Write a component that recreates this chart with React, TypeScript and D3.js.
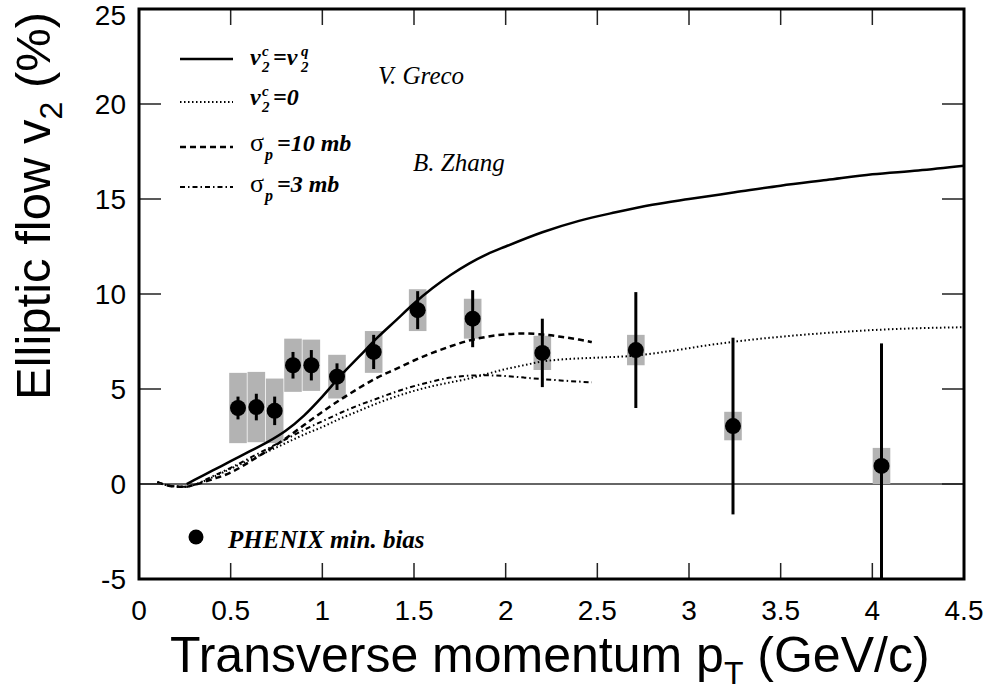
import React from "react";
import * as d3 from "d3";

// PHENIX min. bias data
const ptValues = [0.54, 0.64, 0.74, 0.84, 0.94, 1.08, 1.28, 1.52, 1.82, 2.2, 2.71, 3.24, 4.05];
const v2Values = [4.0, 4.05, 3.85, 6.25, 6.25, 5.65, 6.95, 9.15, 8.7, 6.9, 7.05, 3.05, 0.95];
const statErrors = [0.6, 0.7, 0.75, 0.7, 0.8, 0.7, 0.9, 1.0, 1.5, 1.8, 3.05, 4.65, 6.45];
const sysErrors = [1.85, 1.85, 1.7, 1.4, 1.35, 1.15, 1.1, 1.1, 1.05, 0.9, 0.8, 0.75, 0.95];

// Theory curves
const solidX = [0.26, 0.3, 0.4, 0.5, 0.6, 0.7, 0.8, 0.9, 1.0, 1.1, 1.2, 1.3, 1.4, 1.5, 1.6, 1.7, 1.8, 1.9, 2.0, 2.2, 2.4, 2.6, 2.8, 3.0, 3.25, 3.5, 3.75, 4.0, 4.25, 4.5];
const solidY = [0, 0.2, 0.7, 1.2, 1.7, 2.2, 2.8, 3.6, 4.6, 5.7, 6.7, 7.7, 8.6, 9.5, 10.3, 11.0, 11.6, 12.1, 12.5, 13.25, 13.85, 14.3, 14.7, 15.0, 15.35, 15.7, 16.0, 16.3, 16.5, 16.75];

const dottedX = [0.1, 0.17, 0.25, 0.3, 0.4, 0.5, 0.6, 0.7, 0.8, 0.9, 1.0, 1.1, 1.2, 1.3, 1.4, 1.5, 1.6, 1.7, 1.8, 1.9, 2.0, 2.1, 2.2, 2.3, 2.5, 2.7, 2.9, 3.1, 3.3, 3.5, 3.75, 4.0, 4.25, 4.5];
const dottedY = [0.1, -0.1, -0.15, -0.05, 0.35, 0.8, 1.25, 1.7, 2.15, 2.6, 3.0, 3.45, 3.85, 4.25, 4.6, 4.9, 5.15, 5.35, 5.55, 5.8, 6.05, 6.25, 6.45, 6.55, 6.65, 6.75, 7.0, 7.3, 7.55, 7.75, 7.95, 8.1, 8.2, 8.25];

const dashedX = [0.1, 0.17, 0.25, 0.3, 0.4, 0.5, 0.6, 0.7, 0.8, 0.9, 1.0, 1.1, 1.2, 1.3, 1.4, 1.5, 1.6, 1.7, 1.8, 1.9, 2.0, 2.1, 2.2, 2.3, 2.4, 2.47];
const dashedY = [0.1, -0.1, -0.15, -0.05, 0.25, 0.6, 1.15, 1.75, 2.4, 3.1, 3.8, 4.45, 5.05, 5.6, 6.05, 6.5, 6.9, 7.25, 7.55, 7.75, 7.88, 7.92, 7.87, 7.75, 7.6, 7.47];

const dashDotX = [0.1, 0.17, 0.25, 0.3, 0.4, 0.5, 0.6, 0.7, 0.8, 0.9, 1.0, 1.1, 1.2, 1.3, 1.4, 1.5, 1.6, 1.7, 1.8, 1.9, 2.0, 2.1, 2.2, 2.3, 2.47];
const dashDotY = [0.1, -0.1, -0.15, -0.05, 0.4, 0.85, 1.35, 1.85, 2.35, 2.85, 3.3, 3.75, 4.15, 4.5, 4.85, 5.15, 5.4, 5.6, 5.7, 5.72, 5.68, 5.6, 5.52, 5.45, 5.35];

const xTicks = [0, 0.5, 1, 1.5, 2, 2.5, 3, 3.5, 4, 4.5];
const yTicks = [-5, 0, 5, 10, 15, 20, 25];

const W = 989;
const H = 698;
const x = d3.scaleLinear().domain([0, 4.5]).range([139, 964]);
const y = d3.scaleLinear().domain([-5, 25]).range([579, 9]);

const line = d3
  .line<[number, number]>()
  .x((d) => x(d[0]))
  .y((d) => y(d[1]))
  .curve(d3.curveMonotoneX);

const zip = (a: number[], b: number[]) => a.map((v, i) => [v, b[i]] as [number, number]);

const sans = "'Liberation Sans', Arial, Helvetica, sans-serif";
const serif = "'Liberation Serif', 'Times New Roman', serif";

export default function App() {
  const [x0, x1] = x.range();
  const [yb, yt] = y.range();
  const legendRows = [
    { y: 59, dash: "none", w: 2.5 },
    { y: 102, dash: "1.5 2.5", w: 2 },
    { y: 147, dash: "6 4", w: 2.5 },
    { y: 187, dash: "5 3 1.5 3", w: 2 },
  ];
  const bi = { fontFamily: serif, fontStyle: "italic", fontWeight: "bold" } as const;
  return (
    <div style={{ position: "absolute", left: 0, top: 0 }}>
      <svg width={W} height={H} viewBox={`0 0 ${W} ${H}`} style={{ display: "block", background: "#fff" }}>
        <defs>
          <clipPath id="plot">
            <rect x={x0} y={yt} width={x1 - x0} height={yb - yt} />
          </clipPath>
        </defs>

        {/* zero line */}
        <line x1={x0} x2={x1} y1={y(0)} y2={y(0)} stroke="#333" strokeWidth={1.5} />

        {/* systematic boxes */}
        {ptValues.map((p, i) => (
          <rect
            key={"sys" + i}
            x={x(p - 0.048)}
            width={x(p + 0.048) - x(p - 0.048)}
            y={y(v2Values[i] + sysErrors[i])}
            height={y(v2Values[i] - sysErrors[i]) - y(v2Values[i] + sysErrors[i])}
            fill="#b3b3b3"
          />
        ))}

        {/* theory curves */}
        <g clipPath="url(#plot)" fill="none" stroke="#000">
          <path d={line(zip(solidX, solidY)) || ""} strokeWidth={2.5} />
          <path d={line(zip(dottedX, dottedY)) || ""} strokeWidth={2} strokeDasharray="1.5 2.5" />
          <path d={line(zip(dashedX, dashedY)) || ""} strokeWidth={2.5} strokeDasharray="6 4" />
          <path d={line(zip(dashDotX, dashDotY)) || ""} strokeWidth={2} strokeDasharray="5 3 1.5 3" />
        </g>

        {/* stat error bars and points */}
        <g clipPath="url(#plot)">
          {ptValues.map((p, i) => (
            <line
              key={"err" + i}
              x1={x(p)}
              x2={x(p)}
              y1={y(v2Values[i] - statErrors[i])}
              y2={y(v2Values[i] + statErrors[i])}
              stroke="#000"
              strokeWidth={3}
            />
          ))}
          {ptValues.map((p, i) => (
            <circle key={"pt" + i} cx={x(p)} cy={y(v2Values[i])} r={8} fill="#000" />
          ))}
        </g>

        {/* ticks */}
        <g stroke="#222" strokeWidth={1.5}>
          {xTicks.map((t) => (
            <g key={"xt" + t}>
              <line x1={x(t)} x2={x(t)} y1={yb} y2={yb - 16} />
              <line x1={x(t)} x2={x(t)} y1={yt} y2={yt + 16} />
            </g>
          ))}
          {yTicks.map((t) => (
            <g key={"yt" + t}>
              <line x1={x0} x2={x0 + 22} y1={y(t)} y2={y(t)} />
              <line x1={x1} x2={x1 - 22} y1={y(t)} y2={y(t)} />
            </g>
          ))}
        </g>

        {/* frame */}
        <rect x={x0} y={yt} width={x1 - x0} height={yb - yt} fill="none" stroke="#000" strokeWidth={3} />

        {/* tick labels */}
        <g fontFamily={sans} fontSize={28} fill="#000">
          {xTicks.map((t) => (
            <text key={"xl" + t} x={x(t)} y={620} textAnchor="middle">
              {String(t)}
            </text>
          ))}
          {yTicks.map((t) => (
            <text key={"yl" + t} x={126} y={Math.max(y(t) + 10, 25)} textAnchor="end">
              {String(t)}
            </text>
          ))}
        </g>

        {/* axis titles */}
        <text x={170} y={672} fontFamily={sans} fontSize={50} fill="#000">
          <tspan>Transverse momentum p</tspan>
          <tspan fontSize={32} dy={12}>T</tspan>
          <tspan dy={-12}> (GeV/c)</tspan>
        </text>
        <text
          transform={`translate(50, 400) rotate(-90)`}
          fontFamily={sans}
          fontSize={49}
          fill="#000"
        >
          <tspan>Elliptic flow v</tspan>
          <tspan fontSize={32} dy={12}>2</tspan>
          <tspan dy={-12}> (%)</tspan>
        </text>

        {/* legend */}
        {legendRows.map((r, i) => (
          <line
            key={"lg" + i}
            x1={180}
            x2={233}
            y1={r.y}
            y2={r.y}
            stroke="#000"
            strokeWidth={r.w}
            strokeDasharray={r.dash}
          />
        ))}
        <g fill="#000">
          {/* row 1: v2c = v2q */}
          <text x={250} y={65} fontSize={24} {...bi}>v</text>
          <text x={262} y={56} fontSize={15} {...bi}>c</text>
          <text x={262} y={72} fontSize={15} {...bi}>2</text>
          <text x={273} y={65} fontSize={24} {...bi}>=v</text>
          <text x={301} y={56} fontSize={15} {...bi}>q</text>
          <text x={301} y={72} fontSize={15} {...bi}>2</text>
          {/* row 2: v2c = 0 */}
          <text x={250} y={105} fontSize={24} {...bi}>v</text>
          <text x={262} y={96} fontSize={15} {...bi}>c</text>
          <text x={262} y={112} fontSize={15} {...bi}>2</text>
          <text x={273} y={105} fontSize={24} {...bi}>=0</text>
          {/* row 3 */}
          <text x={250} y={151} fontSize={26} fontFamily={serif}>σ</text>
          <text x={265} y={160} fontSize={16} {...bi}>p</text>
          <text x={277} y={151} fontSize={24} {...bi}>=10 mb</text>
          {/* row 4 */}
          <text x={250} y={192} fontSize={26} fontFamily={serif}>σ</text>
          <text x={265} y={201} fontSize={16} {...bi}>p</text>
          <text x={277} y={192} fontSize={24} {...bi}>=3 mb</text>

          <text x={378} y={84} fontSize={25} fontFamily={serif} fontStyle="italic">V. Greco</text>
          <text x={413} y={171} fontSize={25} fontFamily={serif} fontStyle="italic">B. Zhang</text>

          <circle cx={196} cy={537} r={7.5} />
          <text x={228} y={548} fontSize={25} {...bi}>PHENIX min. bias</text>
        </g>
      </svg>
    </div>
  );
}
